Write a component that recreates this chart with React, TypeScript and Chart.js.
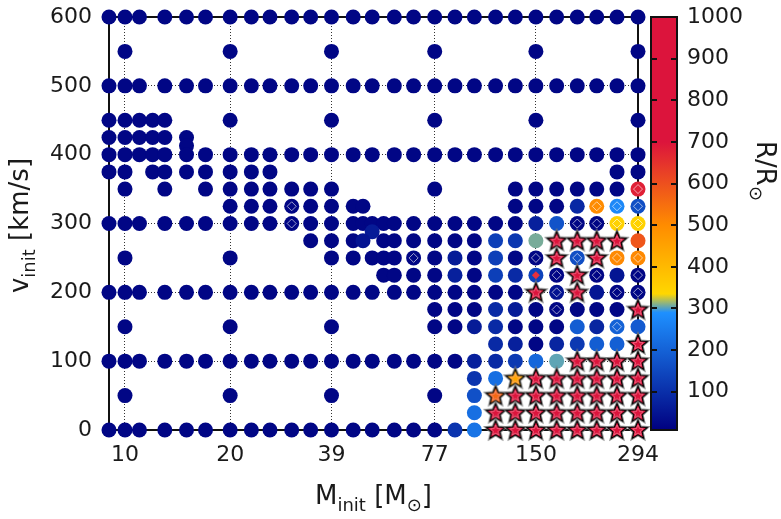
import React, { useEffect, useRef } from 'react';
import { Chart, registerables } from 'chart.js';

Chart.register(...registerables);

// ---- axis ticks ----
const MASS_TICKS = [10, 20, 39, 77, 150, 294];
const VEL_TICKS = [0, 100, 200, 300, 400, 500, 600];
const CBAR_TICKS = [100, 200, 300, 400, 500, 600, 700, 800, 900, 1000];
const R_MIN = 8;
const R_MAX = 1000;
const DEFAULT_R = 20;

// ---- model grid: initial velocity rows and the initial masses computed in each row ----
const ROW_V = [600, 550, 500, 450, 425, 413, 400, 375, 350, 325, 300, 288, 275, 250, 225, 200, 175, 150, 125, 100, 75, 50, 25, 0];
const ROW_M = [
  [9, 10, 11, 13, 15, 17, 20, 23, 26, 30, 34, 39, 45, 51, 59, 67, 77, 88, 100, 115, 131, 150, 172, 197, 224, 256, 294],
  [10, 20, 39, 77, 150, 294],
  [9, 10, 11, 13, 15, 17, 20, 23, 26, 30, 34, 39, 45, 51, 59, 67, 77, 88, 100, 115, 131, 150, 172, 197, 224, 256, 294],
  [9, 10, 11, 12, 13, 20, 39, 77, 150, 294],
  [9, 10, 11, 12, 13, 15],
  [15],
  [9, 10, 11, 12, 13, 15, 17, 20, 23, 26, 30, 34, 39, 45, 51, 59, 67, 77, 88, 100, 115, 131, 150, 172, 197, 224, 256, 294],
  [9, 10, 12, 13, 15, 17, 20, 23, 26, 256, 294],
  [10, 13, 17, 20, 23, 26, 30, 34, 39, 77, 131, 150, 172, 197, 224, 256, 294],
  [20, 23, 26, 30, 34, 39, 45, 48, 131, 150, 172, 197, 224, 256, 294],
  [9, 10, 11, 13, 15, 17, 20, 23, 26, 30, 34, 39, 45, 48, 51, 55, 59, 67, 77, 88, 100, 115, 131, 150, 172, 197, 224, 256, 294],
  [51],
  [34, 39, 45, 48, 55, 59, 67, 77, 88, 100, 115, 131, 150, 172, 197, 224, 256, 294],
  [10, 20, 39, 45, 51, 55, 59, 67, 77, 88, 100, 115, 131, 150, 172, 197, 224, 256, 294],
  [55, 59, 67, 77, 88, 100, 115, 131, 150, 172, 197, 224, 256, 294],
  [9, 10, 11, 13, 15, 17, 20, 23, 26, 30, 34, 39, 45, 51, 59, 67, 77, 88, 100, 115, 131, 150, 172, 197, 224, 256, 294],
  [77, 88, 100, 115, 131, 150, 172, 197, 224, 256, 294],
  [10, 20, 39, 77, 88, 100, 115, 131, 150, 172, 197, 224, 256, 294],
  [115, 131, 150, 172, 197, 224, 256, 294],
  [9, 10, 11, 13, 15, 17, 20, 23, 26, 30, 34, 39, 45, 51, 59, 67, 77, 88, 100, 115, 131, 150, 172, 197, 224, 256, 294],
  [100, 115, 131, 150, 172, 197, 224, 256, 294],
  [10, 20, 39, 77, 100, 115, 131, 150, 172, 197, 224, 256, 294],
  [100, 115, 131, 150, 172, 197, 224, 256, 294],
  [9, 10, 11, 13, 15, 17, 20, 23, 26, 30, 34, 39, 45, 51, 59, 67, 77, 88, 100, 115, 131, 150, 172, 197, 224, 256, 294],
];

// ---- radius R/Rsun of models that are not compact (default is DEFAULT_R) : [M, v, R] ----
const RADII = [
  [294, 350, 680],
  [197, 325, 87], [224, 325, 500], [256, 325, 275], [294, 325, 160],
  [150, 300, 70], [172, 300, 170], [256, 300, 345], [294, 300, 345],
  [51, 288, 60],
  [48, 275, 45], [115, 275, 132], [131, 275, 115], [150, 275, 308], [294, 275, 590],
  [88, 250, 60], [115, 250, 132], [197, 250, 160], [256, 250, 505], [294, 250, 505],
  [88, 225, 70], [115, 225, 132], [131, 225, 90], [150, 225, 140], [256, 225, 50],
  [224, 200, 50], [172, 200, 45],
  [115, 175, 90], [131, 175, 60],
  [100, 150, 60], [115, 150, 90], [197, 150, 190], [224, 150, 80], [256, 150, 200], [294, 150, 185],
  [115, 125, 90], [131, 125, 70], [172, 125, 80], [197, 125, 120], [224, 125, 190], [256, 125, 195],
  [100, 100, 70], [115, 100, 90], [131, 100, 120], [150, 100, 210], [172, 100, 303],
  [100, 75, 110], [115, 75, 225],
  [100, 50, 165],
  [100, 25, 225],
  [88, 0, 110], [100, 0, 235],
];

// ---- red supergiant models (stars) : [M, v, R] ----
const STARS = [
  [172, 275, 900], [197, 275, 900], [224, 275, 900], [256, 275, 900],
  [172, 250, 900], [224, 250, 900],
  [197, 225, 900],
  [150, 200, 900], [197, 200, 900],
  [294, 175, 900],
  [294, 125, 900],
  [197, 100, 900], [224, 100, 900], [256, 100, 900], [294, 100, 900],
  [131, 75, 440], [150, 75, 900], [172, 75, 900], [197, 75, 900], [224, 75, 900], [256, 75, 900], [294, 75, 900],
  [115, 50, 560], [131, 50, 900], [150, 50, 900], [172, 50, 900], [197, 50, 900], [224, 50, 900], [256, 50, 900], [294, 50, 900],
  [115, 25, 760], [131, 25, 900], [150, 25, 900], [172, 25, 900], [197, 25, 900], [224, 25, 900], [256, 25, 900], [294, 25, 900],
  [115, 0, 900], [131, 0, 900], [150, 0, 900], [172, 0, 900], [197, 0, 900], [224, 0, 900], [256, 0, 900], [294, 0, 900],
];

// ---- models flagged with an open diamond : [M, v] ----
const DIAMONDS = [
  [30, 325], [30, 300], [67, 250], [150, 250], [197, 250], [256, 250], [294, 250],
  [224, 325], [256, 325], [294, 325], [294, 350],
  [197, 300], [224, 300], [256, 300], [294, 300],
  [172, 225], [224, 225], [294, 225],
  [172, 200], [256, 200], [294, 200],
  [172, 175], [256, 150],
];
const FILLED_DIAMONDS = [[150, 225]];

// ---- colour map ----
const CMAP: [number, string][] = [
  [8, '#000080'],
  [290, '#1e90ff'],
  [335, '#ffd700'],
  [500, '#ff8c00'],
  [700, '#dc143c'],
  [1000, '#dc143c'],
];

// ---- text ----
const FONT = '"DejaVu Sans", Verdana, sans-serif';
const X_TITLE: [string, boolean][] = [['M', false], ['init', true], [' [M', false], ['\u2299', true], [']', false]];
const Y_TITLE: [string, boolean][] = [['v', false], ['init', true], [' [km/s]', false]];
const C_TITLE: [string, boolean][] = [['R/R', false], ['\u2299', true]];

function hexRgb(h: string) {
  const n = parseInt(h.slice(1), 16);
  return [(n >> 16) & 255, (n >> 8) & 255, n & 255];
}

function cmap(v: number) {
  const val = Math.max(CMAP[0][0], Math.min(CMAP[CMAP.length - 1][0], v));
  for (let i = 0; i < CMAP.length - 1; i++) {
    const [a, ca] = CMAP[i];
    const [b, cb] = CMAP[i + 1];
    if (val >= a && val <= b) {
      const t = (val - a) / (b - a);
      const A = hexRgb(ca);
      const B = hexRgb(cb);
      const c = A.map((x, k) => Math.round(x + (B[k] - x) * t));
      return `rgb(${c[0]},${c[1]},${c[2]})`;
    }
  }
  return CMAP[CMAP.length - 1][1];
}

const starCache = new Map<string, HTMLCanvasElement>();
function starImage(color: string) {
  const hit = starCache.get(color);
  if (hit) return hit;
  const S = 26;
  const c = document.createElement('canvas');
  c.width = S;
  c.height = S;
  const g = c.getContext('2d')!;
  const cx = S / 2;
  const cy = S / 2 + 0.5;
  const path = (R: number, r: number) => {
    g.beginPath();
    for (let i = 0; i < 10; i++) {
      const a = -Math.PI / 2 + (i * Math.PI) / 5;
      const rad = i % 2 === 0 ? R : r;
      const x = cx + rad * Math.cos(a);
      const y = cy + rad * Math.sin(a);
      if (i === 0) g.moveTo(x, y);
      else g.lineTo(x, y);
    }
    g.closePath();
  };
  g.lineJoin = 'miter';
  path(9.5, 4.3);
  g.strokeStyle = 'rgba(120,120,120,0.9)';
  g.lineWidth = 3;
  g.stroke();
  g.fillStyle = color;
  g.fill();
  g.strokeStyle = '#000';
  g.lineWidth = 1.1;
  g.stroke();
  path(5.5, 2.5);
  g.strokeStyle = 'rgba(255,170,190,0.6)';
  g.lineWidth = 0.8;
  g.stroke();
  starCache.set(color, c);
  return c;
}

function drawRich(ctx: CanvasRenderingContext2D, parts: [string, boolean][], x: number, y: number, rot: number, F: number) {
  const SF = Math.round(F * 0.7);
  ctx.save();
  ctx.translate(x, y);
  ctx.rotate(rot);
  ctx.textAlign = 'left';
  ctx.textBaseline = 'alphabetic';
  ctx.fillStyle = '#1a1a1a';
  const widths = parts.map(([t, sub]) => {
    ctx.font = `${sub ? SF : F}px ${FONT}`;
    return ctx.measureText(t).width;
  });
  const total = widths.reduce((a, b) => a + b, 0);
  let cx = -total / 2;
  parts.forEach(([t, sub], i) => {
    ctx.font = `${sub ? SF : F}px ${FONT}`;
    ctx.fillText(t, cx, sub ? F * 0.27 : 0);
    cx += widths[i];
  });
  ctx.restore();
}

const decorPlugin = {
  id: 'decor',
  beforeDatasetsDraw(chart: any) {
    const { ctx, chartArea: a } = chart;
    ctx.save();
    ctx.strokeStyle = '#111';
    ctx.lineWidth = 2;
    ctx.strokeRect(a.left, a.top, a.right - a.left, a.bottom - a.top);
    ctx.restore();
  },
  afterDraw(chart: any) {
    const { ctx, chartArea: a } = chart;
    const s = chart.scales.y2;
    const x0 = s.left + 13;
    const w = 26;
    const yTop = s.getPixelForValue(R_MAX);
    const yBot = s.getPixelForValue(R_MIN);
    ctx.save();
    const grad = ctx.createLinearGradient(0, yBot, 0, yTop);
    CMAP.forEach(([v, c]) => grad.addColorStop((v - R_MIN) / (R_MAX - R_MIN), c));
    ctx.fillStyle = grad;
    ctx.fillRect(x0, yTop, w, yBot - yTop);
    ctx.strokeStyle = '#111';
    ctx.lineWidth = 2;
    ctx.beginPath();
    CBAR_TICKS.forEach((v) => {
      const y = Math.round(s.getPixelForValue(v));
      ctx.moveTo(x0, y);
      ctx.lineTo(x0 + 6, y);
      ctx.moveTo(x0 + w - 6, y);
      ctx.lineTo(x0 + w, y);
    });
    ctx.stroke();
    ctx.strokeRect(x0, yTop, w, yBot - yTop);
    ctx.restore();

    drawRich(ctx, X_TITLE, (a.left + a.right) / 2, 504, 0, 26);
    drawRich(ctx, Y_TITLE, 28, (a.top + a.bottom) / 2 + 2, -Math.PI / 2, 26);
    drawRich(ctx, C_TITLE, 757, 171, Math.PI / 2, 26);
  },
};

function buildData() {
  const key = (m: number, v: number) => `${m}|${v}`;
  const starSet = new Set(STARS.map(([m, v]) => key(m, v)));
  const rMap = new Map(RADII.map(([m, v, r]) => [key(m, v), r]));
  const circles: any[] = [];
  ROW_V.forEach((v, i) => {
    ROW_M[i].forEach((m) => {
      if (starSet.has(key(m, v))) return;
      circles.push({ x: m, y: v, r: rMap.get(key(m, v)) ?? DEFAULT_R });
    });
  });
  const stars = STARS.map(([m, v, r]) => ({ x: m, y: v, r }));
  const diamonds = DIAMONDS.map(([m, v]) => ({ x: m, y: v }));
  const filled = FILLED_DIAMONDS.map(([m, v]) => ({ x: m, y: v }));
  return { circles, stars, diamonds, filled };
}

export default function App() {
  const ref = useRef<HTMLCanvasElement | null>(null);
  useEffect(() => {
    document.body.style.margin = '0';
    const canvas = ref.current!;
    const { circles, stars, diamonds, filled } = buildData();
    const tickFont = { family: FONT, size: 22 };
    const chart = new Chart(canvas, {
      type: 'scatter',
      data: {
        datasets: [
          {
            label: 'filled diamond',
            data: filled,
            pointStyle: 'rectRot',
            pointRadius: 4,
            backgroundColor: '#e8303c',
            borderWidth: 0,
            order: 0,
            clip: false,
          } as any,
          {
            label: 'diamonds',
            data: diamonds,
            pointStyle: 'rectRot',
            pointRadius: 4.5,
            backgroundColor: 'rgba(0,0,0,0)',
            borderColor: 'rgba(255,255,255,0.6)',
            borderWidth: 1,
            order: 1,
            clip: false,
          },
          {
            label: 'stars',
            data: stars,
            pointStyle: (c: any) => starImage(cmap(c.raw ? c.raw.r : 900)),
            pointRadius: 9,
            order: 2,
            clip: false,
          },
          {
            label: 'models',
            data: circles,
            pointStyle: 'circle',
            pointRadius: 7.5,
            backgroundColor: (c: any) => cmap(c.raw ? c.raw.r : DEFAULT_R),
            borderWidth: 0,
            order: 3,
            clip: false,
          },
        ],
      },
      options: {
        responsive: false,
        animation: false,
        devicePixelRatio: 1,
        layout: { padding: { top: 17, left: 0, right: 0, bottom: 0 }, autoPadding: false },
        plugins: { legend: { display: false }, tooltip: { enabled: false } },
        scales: {
          x: {
            type: 'logarithmic',
            min: 9,
            max: 294,
            bounds: 'data',
            position: 'bottom',
            afterBuildTicks: (s: any) => {
              s.ticks = MASS_TICKS.map((v) => ({ value: v }));
            },
            afterFit: (s: any) => {
              s.height = 89;
            },
            ticks: {
              callback: (v: any) => String(v),
              font: tickFont,
              color: '#1a1a1a',
              padding: 12,
              maxRotation: 0,
              autoSkip: false,
            },
            grid: { color: 'rgba(0,0,0,0.8)', lineWidth: 1, drawTicks: false },
            border: { display: false, dash: [1, 2] },
          },
          y: {
            type: 'linear',
            min: 0,
            max: 600,
            afterBuildTicks: (s: any) => {
              s.ticks = VEL_TICKS.map((v) => ({ value: v }));
            },
            afterFit: (s: any) => {
              s.width = 109;
            },
            ticks: { callback: (v: any) => String(v), font: tickFont, color: '#1a1a1a', padding: 2 },
            grid: { color: 'rgba(0,0,0,0.8)', lineWidth: 1, drawTicks: true, tickLength: 15, tickColor: 'rgba(0,0,0,0)' },
            border: { display: false, dash: [1, 2] },
          },
          y2: {
            type: 'linear',
            position: 'right',
            min: R_MIN,
            max: R_MAX,
            afterBuildTicks: (s: any) => {
              s.ticks = CBAR_TICKS.map((v) => ({ value: v }));
            },
            afterFit: (s: any) => {
              s.width = 143;
            },
            ticks: { callback: (v: any) => String(v), font: tickFont, color: '#1a1a1a', padding: 2 },
            grid: { display: false, drawTicks: true, tickLength: 47 },
            border: { display: false },
          },
        },
      } as any,
      plugins: [decorPlugin],
    });
    return () => chart.destroy();
  }, []);
  return <canvas ref={ref} width={781} height={519} style={{ display: 'block' }} />;
}
